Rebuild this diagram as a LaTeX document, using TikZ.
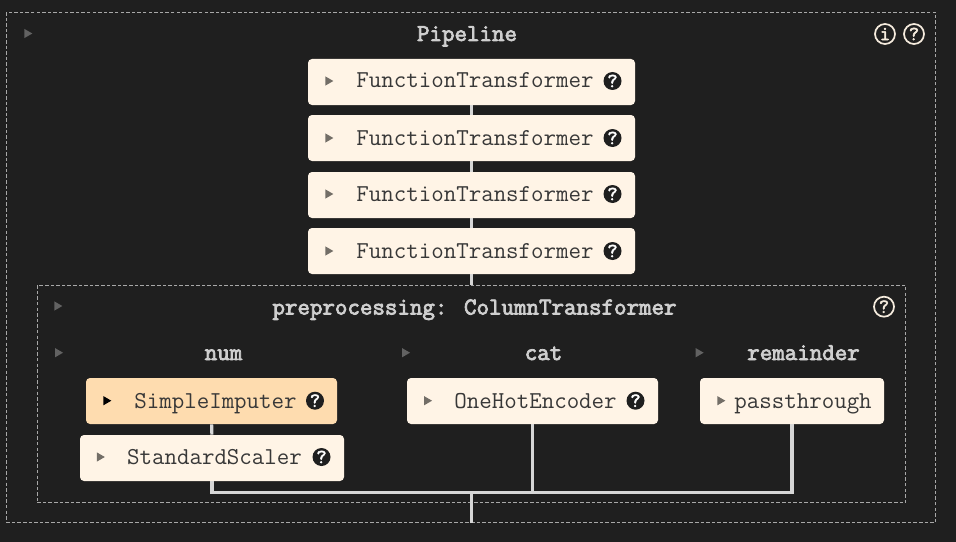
\documentclass[tikz,border=0pt]{standalone}
\usepackage{fontspec}
\usetikzlibrary{shapes.geometric}

\newfontfamily\headmono{Latin Modern Mono}[FakeBold=3.2]
\newfontfamily\helpmono{Latin Modern Mono}[FakeBold=2.5]

\definecolor{pagebg}{HTML}{1F1F1F}
\definecolor{boxcream}{HTML}{FFF4E6}
\definecolor{boxorange}{HTML}{FEDCAF}
\definecolor{linegrey}{HTML}{D6D6D6}
\definecolor{dashgrey}{HTML}{A8A8A8}
\definecolor{headgrey}{HTML}{CFCFCF}
\definecolor{textdark}{HTML}{383838}
\definecolor{ringcream}{HTML}{F5EBDD}

\tikzset{
    sized/.style 2 args={minimum width=#1*0.75pt, minimum height=#2*0.75pt},
    stepbox/.style={fill=boxcream, rounded corners=3pt, inner sep=0pt},
    dashbox/.style={draw=dashgrey, line width=0.55pt, dash pattern=on 2.6pt off 1.6pt, inner sep=0pt},
    wire/.style={draw=linegrey, line width=2.3pt},
    lbl/.style={font=\ttfamily\fontsize{18.2}{18}\selectfont, text=textdark, inner sep=0pt, anchor=base},
    head/.style={font=\headmono\fontsize{18.2}{18}\selectfont, text=headgrey, inner sep=0pt, anchor=base},
    tri/.style={regular polygon, regular polygon sides=3, shape border rotate=-90, fill=#1, inner sep=0pt, minimum size=8pt},
    helpdot/.style={circle, fill=pagebg, text=white, inner sep=0pt, minimum size=13.5pt, font=\helpmono\fontsize{15}{15}\selectfont},
    helpring/.style={circle, draw=ringcream, line width=1.3pt, text=ringcream, fill=pagebg, inner sep=0pt, minimum size=15pt, font=\helpmono\fontsize{15}{15}\selectfont},
}

\begin{document}
\begin{tikzpicture}[x=0.75pt, y=-0.75pt]
    \useasboundingbox[fill=pagebg] (0,0) rectangle (956,542);

    % dashed frames
    \node[dashbox, sized={929.5}{510}] (pipe) at (471,267.3) {};
    \node[dashbox, sized={868.5}{217.5}] (prep) at (471.5,394) {};

    % boxes
    \node[stepbox, sized={327}{46}] (ftA) at (471.5,82) {};
    \node[stepbox, sized={327}{46}] (ftB) at (471.5,138) {};
    \node[stepbox, sized={327}{46}] (ftC) at (471.5,195) {};
    \node[stepbox, sized={327}{46}] (ftD) at (471.5,251) {};
    \node[stepbox, sized={251}{46}, fill=boxorange] (imputer) at (211.5,401) {};
    \node[stepbox, sized={264}{46}] (scaler) at (212,458) {};
    \node[stepbox, sized={251}{46}] (encoder) at (532.5,401) {};
    \node[stepbox, sized={184}{46}] (passthru) at (792,401) {};
    \coordinate (join) at (471.5,492.5);

    % connectors
    \draw[wire] (ftA) -- (ftB);
    \draw[wire] (ftB) -- (ftC);
    \draw[wire] (ftC) -- (ftD);
    \draw[wire] (ftD) -- (ftD |- prep.north);
    \draw[wire] (imputer) -- (scaler);
    \draw[wire] (scaler.south) |- (join);
    \draw[wire] (encoder.south) |- (join);
    \draw[wire] (passthru.south) |- (join);
    \draw[wire] (join) -- (join |- pipe.south);

    % titles
    \node[head] (pipeT) at (467,41) {Pipeline};
    \node[head] (prepT) at (474.5,314.5) {preprocessing: ColumnTransformer};
    \node[head] (numT) at (223.5,360) {num};
    \node[head] (catT) at (543.5,360) {cat};
    \node[head] (restT) at (803.5,360) {remainder};

    % box labels
    \foreach \yy/\bb/\nm in {81/88/a, 138/145/b, 194/201/c, 251/258/d} {
        \node[lbl] (ft\nm) at (475,\bb) {FunctionTransformer};
        \node[tri={black!55!boxcream}] (ftarr\nm) at (328,\yy) {};
        \node[helpdot] (fthelp\nm) at (612.5,\yy) {?};
    }
    \node[lbl] (imputerT) at (215.5,408) {SimpleImputer};
    \node[lbl] (scalerT) at (214.5,464.5) {StandardScaler};
    \node[lbl] (encoderT) at (535.5,408) {OneHotEncoder};
    \node[lbl] (passthruT) at (803,408) {passthrough};

    \node[tri=black] (imputerA) at (106,400.7) {};
    \node[tri={black!55!boxcream}] (scalerA) at (99.5,457) {};
    \node[tri={black!55!boxcream}] (encoderA) at (426.7,400.7) {};
    \node[tri={black!55!boxcream}] (passthruA) at (720,400.7) {};

    \node[helpdot] (imputerH) at (315,400.7) {?};
    \node[helpdot] (scalerH) at (321.5,457) {?};
    \node[helpdot] (encoderH) at (635.5,400.7) {?};

    % frame arrows
    \foreach \xx/\yy/\nm in {27/33.5/p, 57/306/q, 57.7/352.7/r, 404.7/352.7/s, 698.3/352.7/t}
        \node[tri={white!30!pagebg}] (arr\nm) at (\xx,\yy) {};

    % frame help
    \node[helpring] (pipeI) at (885,34) {i};
    \node[helpring] (pipeH) at (914,34) {?};
    \node[helpring] (prepH) at (884,306.7) {?};
\end{tikzpicture}
\end{document}
